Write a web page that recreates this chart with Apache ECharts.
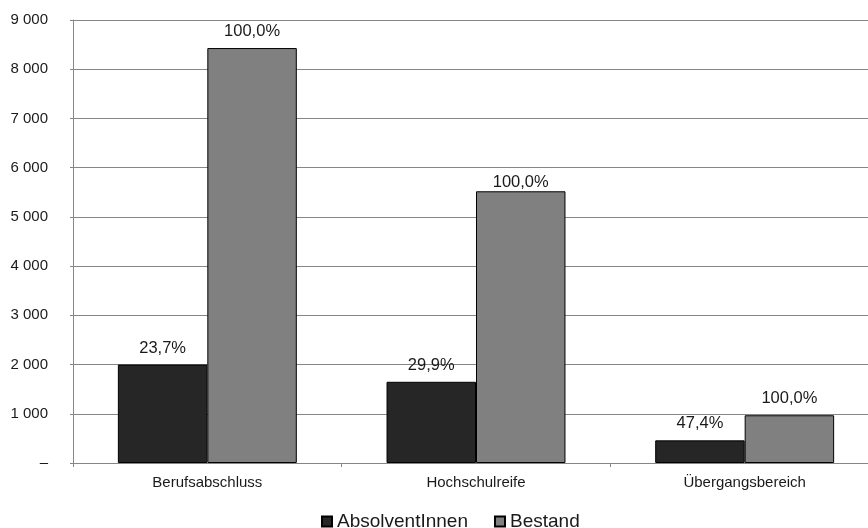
<!DOCTYPE html>
<html>
<head>
<meta charset="utf-8">
<script src="https://cdn.jsdelivr.net/npm/echarts@6/dist/echarts.min.js"></script>
<style>
html,body{margin:0;padding:0;background:#fff;overflow:hidden;width:868px;height:528px;}
#chart{width:880px;height:528px;}
</style>
</head>
<body>
<div id="chart"></div>
<script>
const categories = ['Berufsabschluss', 'Hochschulreife', 'Übergangsbereich'];
const seriesNames = ['AbsolventInnen', 'Bestand'];
const absolventen = [2000, 1650, 460];
const bestand = [8430, 5520, 970];
const absolventenLabels = ['23,7%', '29,9%', '47,4%'];
const bestandLabels = ['100,0%', '100,0%', '100,0%'];

const FONT = '"Liberation Sans", Arial, sans-serif';
const chart = echarts.init(document.getElementById('chart'), null, {renderer: 'canvas'});

function fmtY(v) {
  if (v === 0) return '–';
  return String(v).replace(/\B(?=(\d{3})+(?!\d))/g, ' ');
}

const labelBase = {
  show: true, position: 'top', distance: 8,
  fontFamily: FONT, fontSize: 16.5, color: '#1a1a1a'
};

const option = {
  animation: false,
  backgroundColor: '#ffffff',
  grid: {left: 73, top: 20, bottom: 65, width: 806, containLabel: false},
  legend: {
    data: seriesNames,
    left: 316, top: 507,
    itemWidth: 10, itemHeight: 10, itemGap: 26,
    icon: 'rect',
    textStyle: {fontFamily: FONT, fontSize: 19, color: '#1a1a1a'}
  },
  xAxis: {
    type: 'category',
    data: categories,
    axisLine: {lineStyle: {color: '#868686', width: 1}},
    axisTick: {show: true, length: 4, alignWithLabel: false, lineStyle: {color: '#868686'}},
    axisLabel: {fontFamily: FONT, fontSize: 15, color: '#1a1a1a', margin: 12}
  },
  yAxis: {
    type: 'value',
    min: 0, max: 9000, interval: 1000,
    axisLine: {show: true, lineStyle: {color: '#868686', width: 1}},
    axisTick: {show: true, length: 3, lineStyle: {color: '#868686'}},
    splitLine: {lineStyle: {color: '#868686', width: 1}},
    axisLabel: {fontFamily: FONT, fontSize: 15, color: '#1a1a1a', margin: 25, formatter: fmtY}
  },
  series: [
    {
      name: seriesNames[0], type: 'bar',
      barGap: '0%', barCategoryGap: '33.4%',
      data: absolventen,
      itemStyle: {color: '#262626', borderColor: '#000000', borderWidth: 1},
      label: Object.assign({}, labelBase, {formatter: p => absolventenLabels[p.dataIndex]})
    },
    {
      name: seriesNames[1], type: 'bar',
      barGap: '0%', barCategoryGap: '33.4%',
      data: bestand.map((v, i) => i === 1 ? {value: v, label: {distance: 0}} : v),
      itemStyle: {color: '#808080', borderColor: '#000000', borderWidth: 1},
      label: Object.assign({}, labelBase, {formatter: p => bestandLabels[p.dataIndex]})
    }
  ]
};
chart.setOption(option);
</script>
</body>
</html>
